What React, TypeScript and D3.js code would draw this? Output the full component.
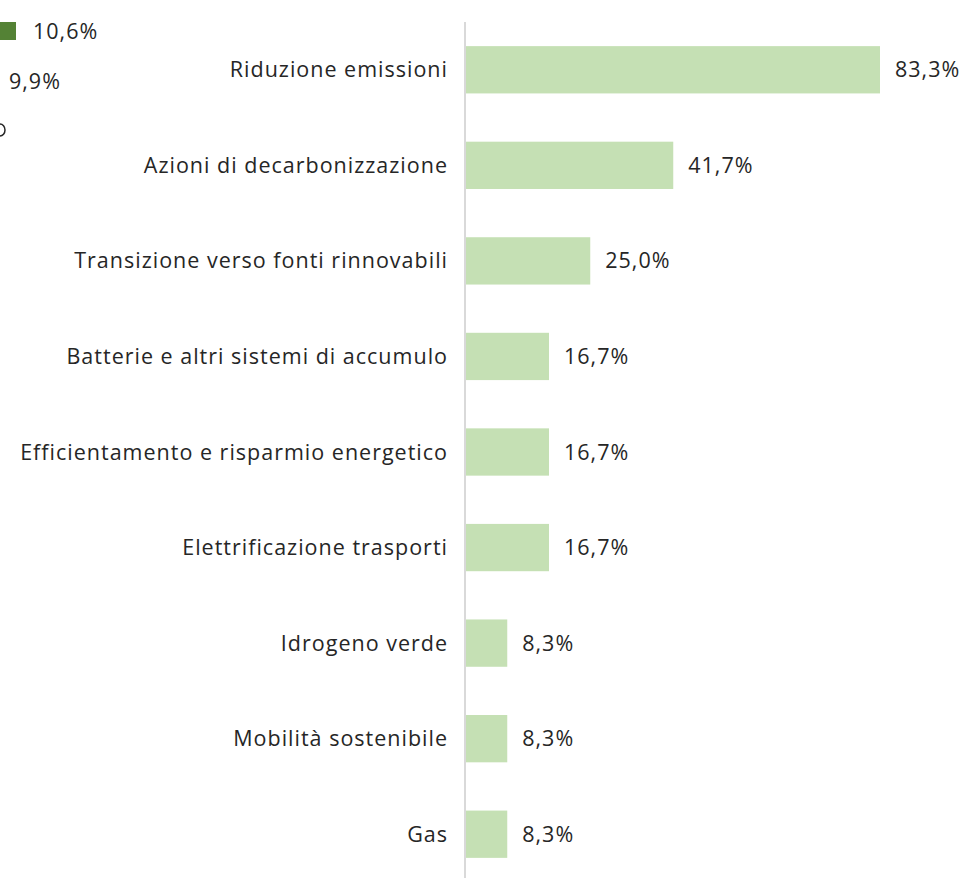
import React from "react";
import * as d3 from "d3";

const categories = [
  "Riduzione emissioni",
  "Azioni di decarbonizzazione",
  "Transizione verso fonti rinnovabili",
  "Batterie e altri sistemi di accumulo",
  "Efficientamento e risparmio energetico",
  "Elettrificazione trasporti",
  "Idrogeno verde",
  "Mobilità sostenibile",
  "Gas",
];
const values = [83.3, 41.7, 25.0, 16.7, 16.7, 16.7, 8.3, 8.3, 8.3];

const fragmentLabels = ["10,6%", "9,9%"];

const W = 974;
const H = 878;

export default function App() {
  const x = d3.scaleLinear().domain([0, 100]).range([466, 466 + 497]);
  const y = d3
    .scaleBand<string>()
    .domain(categories)
    .range([22, 882])
    .paddingInner(0.505)
    .paddingOuter(0.2525);
  const fmt = (v: number) => v.toFixed(1).replace(".", ",") + "%";
  const font = "'Open Sans', sans-serif";
  const fs = 21.5;
  const ls = 1.0;
  return (
    <svg
      width={W}
      height={H}
      style={{ position: "absolute", left: 0, top: 0, background: "#fff" }}
    >
      {/* cut-off fragments of a neighbouring chart */}
      <rect x={0} y={22} width={16} height={18} fill="#548235" />
      <text x={33} y={39} fontFamily={font} fontSize={fs} letterSpacing={ls} fill="#262626">
        {fragmentLabels[0]}
      </text>
      <text x={9} y={89} fontFamily={font} fontSize={fs} letterSpacing={ls} fill="#262626">
        {fragmentLabels[1]}
      </text>
      <path d="M0,124 A5,6 0 0 1 0,136" fill="none" stroke="#262626" strokeWidth={1.5} />

      <line x1={465} x2={465} y1={22} y2={H} stroke="#d9d9d9" strokeWidth={2} />
      {categories.map((c, i) => {
        const yy = y(c)!;
        const bw = y.bandwidth();
        return (
          <g key={c}>
            <rect
              x={x(0)}
              y={yy}
              width={x(values[i]) - x(0)}
              height={bw}
              fill="#c5e0b4"
            />
            <text
              x={448}
              y={yy + bw / 2}
              dy="0.35em"
              textAnchor="end"
              fontFamily={font}
              fontSize={fs}
              letterSpacing={ls}
              fill="#262626"
            >
              {c}
            </text>
            <text
              x={x(values[i]) + 15}
              y={yy + bw / 2}
              dy="0.35em"
              fontFamily={font}
              fontSize={fs}
              letterSpacing={ls}
              fill="#262626"
            >
              {fmt(values[i])}
            </text>
          </g>
        );
      })}
    </svg>
  );
}
